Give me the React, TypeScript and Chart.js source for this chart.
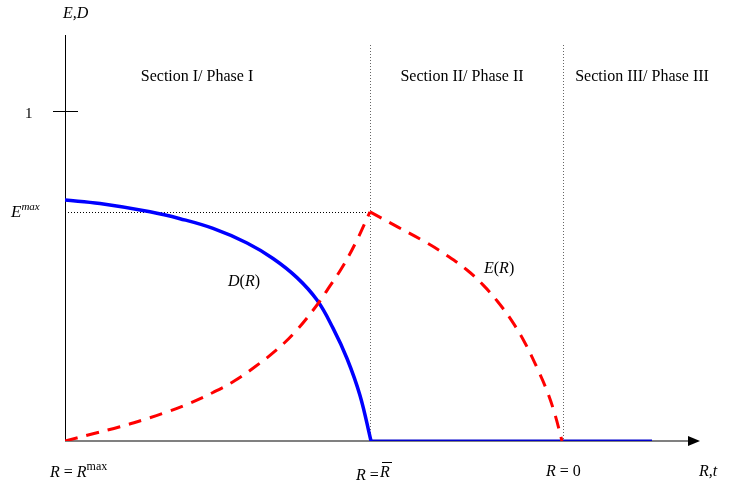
import React, { useEffect, useRef } from "react";
import { Chart, registerables } from "chart.js";

Chart.register(...registerables);

// Data units: x = distance along R axis (0 = R^max), y = E,D level (1 = tick "1")
const dCurveX = [0, 35, 85, 115, 148, 182, 208, 232, 252, 268, 282, 295, 306];
const dCurveY = [0.73, 0.7195, 0.6945, 0.6735, 0.644, 0.6, 0.553, 0.495, 0.427, 0.342, 0.25, 0.138, 0];
const dFlatX = [306, 587];
const dFlatY = [0, 0];
const eRiseX = [0, 28, 55, 78, 102, 125, 148, 170, 190, 210, 230, 252, 265, 278, 292, 305];
const eRiseY = [0, 0.022, 0.043, 0.064, 0.088, 0.115, 0.147, 0.183, 0.225, 0.272, 0.33, 0.412, 0.47, 0.53, 0.609, 0.694];
const eFallX = [305, 333, 362, 382, 402, 418, 433, 447, 460, 472, 482, 490, 497];
const eFallY = [0.694, 0.648, 0.6, 0.562, 0.518, 0.473, 0.421, 0.363, 0.297, 0.222, 0.152, 0.08, 0];

const X_MAX = 635;
const Y_MAX = 1.23;
const E_MAX = 0.694;
const R_BAR = 305;
const R_ZERO = 498;
const sections = ["Section I/ Phase I", "Section II/ Phase II", "Section III/ Phase III"];
const sectionCentersX = [132, 397, 577];

const toPts = (xs: number[], ys: number[]) => xs.map((x, i) => ({ x, y: ys[i] }));

type Seg = { t: string; it?: boolean; size?: number; dy?: number };
const FONT = "'Liberation Serif', 'Times New Roman', serif";

function rich(ctx: CanvasRenderingContext2D, segs: Seg[], x: number, y: number, align: "left" | "center" = "left") {
  const fontOf = (s: Seg) => `${s.it ? "italic " : ""}${s.size ?? 16}px ${FONT}`;
  let total = 0;
  for (const s of segs) {
    ctx.font = fontOf(s);
    total += ctx.measureText(s.t).width;
  }
  let cx = align === "center" ? x - total / 2 : x;
  ctx.textBaseline = "alphabetic";
  ctx.textAlign = "left";
  for (const s of segs) {
    ctx.font = fontOf(s);
    ctx.fillText(s.t, cx, y + (s.dy ?? 0));
    cx += ctx.measureText(s.t).width;
  }
}

const overlay = {
  id: "overlay",
  beforeDatasetsDraw(chart: any) {
    const ctx: CanvasRenderingContext2D = chart.ctx;
    const xs = chart.scales.x;
    const ys = chart.scales.y;
    const x0 = xs.getPixelForValue(0);
    const y0 = ys.getPixelForValue(0);
    ctx.save();
    // dotted guides
    ctx.setLineDash([1, 2]);
    ctx.lineWidth = 1;
    ctx.strokeStyle = "#000";
    const yE = Math.round(ys.getPixelForValue(E_MAX)) + 0.5;
    const xB = Math.round(xs.getPixelForValue(R_BAR)) + 0.5;
    const xZ = Math.round(xs.getPixelForValue(R_ZERO)) + 0.5;
    ctx.beginPath();
    ctx.moveTo(x0, yE);
    ctx.lineTo(xB, yE);
    ctx.stroke();
    ctx.strokeStyle = "#666";
    ctx.beginPath();
    ctx.moveTo(xB, 45);
    ctx.lineTo(xB, y0);
    ctx.moveTo(xZ, 45);
    ctx.lineTo(xZ, y0);
    ctx.stroke();
    ctx.setLineDash([]);
    // x axis
    ctx.strokeStyle = "#808080";
    ctx.lineWidth = 2;
    ctx.beginPath();
    ctx.moveTo(x0, y0);
    ctx.lineTo(chart.chartArea.right - 8, y0);
    ctx.stroke();
    ctx.fillStyle = "#000";
    ctx.beginPath();
    ctx.moveTo(chart.chartArea.right, y0);
    ctx.lineTo(chart.chartArea.right - 12, y0 - 5);
    ctx.lineTo(chart.chartArea.right - 12, y0 + 5);
    ctx.closePath();
    ctx.fill();
    // y axis
    ctx.strokeStyle = "#000";
    ctx.lineWidth = 1;
    const xa = Math.round(x0) + 0.5;
    ctx.beginPath();
    ctx.moveTo(xa, chart.chartArea.top);
    ctx.lineTo(xa, y0);
    const y1 = Math.round(ys.getPixelForValue(1)) + 0.5;
    ctx.moveTo(x0 - 12, y1);
    ctx.lineTo(x0 + 13, y1);
    ctx.stroke();

    // texts
    ctx.fillStyle = "#000";
    rich(ctx, [{ t: "E,D", it: true }], 63, 18);
    rich(ctx, [{ t: "1", size: 15 }], 25, y1 + 6);
    rich(ctx, [{ t: "E", it: true, size: 17 }, { t: "max", it: true, size: 11, dy: -7 }], 11, yE + 4);
    sections.forEach((s, i) => {
      rich(ctx, [{ t: s }], xs.getPixelForValue(sectionCentersX[i]), 81, "center");
    });
    rich(ctx, [{ t: "D", it: true }, { t: "(" }, { t: "R", it: true }, { t: ")" }], 228, 286);
    rich(ctx, [{ t: "E", it: true }, { t: "(" }, { t: "R", it: true }, { t: ")" }], 484, 273);
    const yb = 477;
    rich(ctx, [{ t: "R", it: true }, { t: " = " }, { t: "R", it: true }, { t: "max", size: 12, dy: -7 }], 50, yb);
    rich(ctx, [{ t: "R", it: true }, { t: " =" }], 356, yb + 3);
    rich(ctx, [{ t: "R", it: true }], 380, yb);
    ctx.beginPath();
    ctx.lineWidth = 1;
    ctx.moveTo(382, 462.5);
    ctx.lineTo(392, 462.5);
    ctx.stroke();
    rich(ctx, [{ t: "R", it: true }, { t: " = 0" }], 546, yb - 1);
    rich(ctx, [{ t: "R", it: true }, { t: ",", it: true }, { t: "t", it: true }], 699, yb - 1);
    ctx.restore();
  },
};

export default function App() {
  const ref = useRef<HTMLCanvasElement>(null);
  useEffect(() => {
    if (!ref.current) return;
    const line = { showLine: true, borderWidth: 3, pointRadius: 0, tension: 0.4 };
    const chart = new Chart(ref.current, {
      type: "scatter",
      data: {
        datasets: [
          { ...line, data: toPts(eRiseX, eRiseY), borderColor: "#ff0000", borderDash: [13, 9] },
          { ...line, data: toPts(eFallX, eFallY), borderColor: "#ff0000", borderDash: [13, 9] },
          { ...line, data: toPts(dCurveX, dCurveY), borderColor: "#0000ff", borderWidth: 3.5 },
          { ...line, data: toPts(dFlatX, dFlatY), borderColor: "#0000cc", tension: 0 },
        ],
      },
      options: {
        responsive: false,
        animation: false,
        layout: { padding: { left: 65, right: 29, top: 35, bottom: 48 } },
        plugins: { legend: { display: false }, tooltip: { enabled: false } },
        scales: {
          x: { type: "linear", min: 0, max: X_MAX, display: false },
          y: { type: "linear", min: 0, max: Y_MAX, display: false },
        },
      },
      plugins: [overlay],
    });
    return () => chart.destroy();
  }, []);
  return (
    <div style={{ position: "fixed", left: 0, top: 0, width: 729, height: 489, background: "#fff" }}>
      <canvas ref={ref} width={729} height={489} />
    </div>
  );
}
